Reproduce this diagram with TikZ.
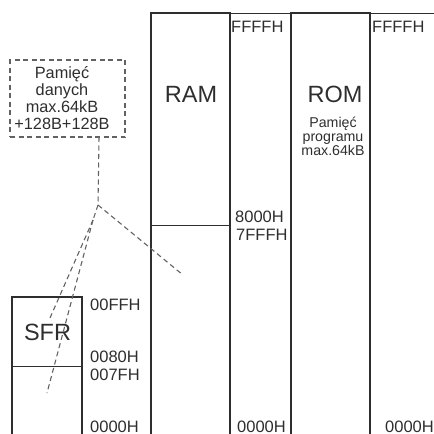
\documentclass[tikz,border=0pt]{standalone}
\usepackage{fontspec}
\setmainfont{Liberation Sans}
\definecolor{ink}{HTML}{2E2E2E}
\begin{document}
\begin{tikzpicture}[x=1pt,y=-1pt,
  box/.style={draw=ink,line width=1.8pt},
  thin/.style={draw=ink,line width=1pt},
  dashline/.style={draw=ink!75,line width=1.1pt,dash pattern=on 5pt off 3.5pt},
  big/.style={text=ink,inner sep=0pt,anchor=base,font=\fontsize{23.5}{23.5}\selectfont},
  addr/.style={text=ink,inner sep=0pt,anchor=base west,font=\fontsize{16.5}{16.5}\selectfont},
  small/.style={text=ink,inner sep=0pt,align=center}]
\useasboundingbox (0,0) rectangle (434,434);
% RAM / ROM columns
\draw[thin] (230,13) -- (434,13);
\draw[box] (151,434) -- (151,13) -- (230,13) -- (230,434);
\draw[box] (291,434) -- (291,13) -- (370,13) -- (370,434);
\draw[thin] (151,225) -- (230,225);
% SFR
\draw[box] (12,434) -- (12,297) -- (82,297) -- (82,434);
\draw[thin] (12,366) -- (82,366);
% texts
\node[big] (ram) at (191,102) {RAM};
\node[big] (rom) at (335,102) {ROM};
\node[big] (sfr) at (47.5,340) {SFR};
\node[small,font=\fontsize{14.2}{13.8}\selectfont,anchor=north] (romtxt) at (333,117) {Pamięć\\programu\\max.64kB};
\node[addr] (a1) at (231,32) {FFFFH};
\node[addr] (a2) at (372,32) {FFFFH};
\node[addr] (a3) at (235,222) {8000H};
\node[addr] (a4) at (236,240) {7FFFH};
\node[addr] (a5) at (237,432) {0000H};
\node[addr] (a6) at (385,432) {0000H};
\node[addr] (s1) at (90,310) {00FFH};
\node[addr] (s2) at (90,362) {0080H};
\node[addr] (s3) at (90,380) {007FH};
\node[addr] (s4) at (90,432) {0000H};
% dashed data memory box
\node[dashline,minimum width=115pt,minimum height=77pt,inner sep=0pt] (pd) at (67.5,98.5) {};
\node[small,font=\fontsize{16.3}{17}\selectfont] (pdtxt) at (62,98) {Pamięć\\danych\\max.64kB\\+128B+128B};
\coordinate (j0) at (99,137);
\coordinate (j1) at (98,205);
\coordinate (j2) at (93,220);
\coordinate (e1) at (183,275);
\coordinate (e2) at (47,393);
\coordinate (e3) at (50,318);
\draw[dashline] (j0) -- (j1) -- (j2);
\draw[dashline] (j1) -- (e1);
\draw[dashline] (j2) -- (e2);
\draw[dashline] (j2) -- (e3);
\end{tikzpicture}
\end{document}
